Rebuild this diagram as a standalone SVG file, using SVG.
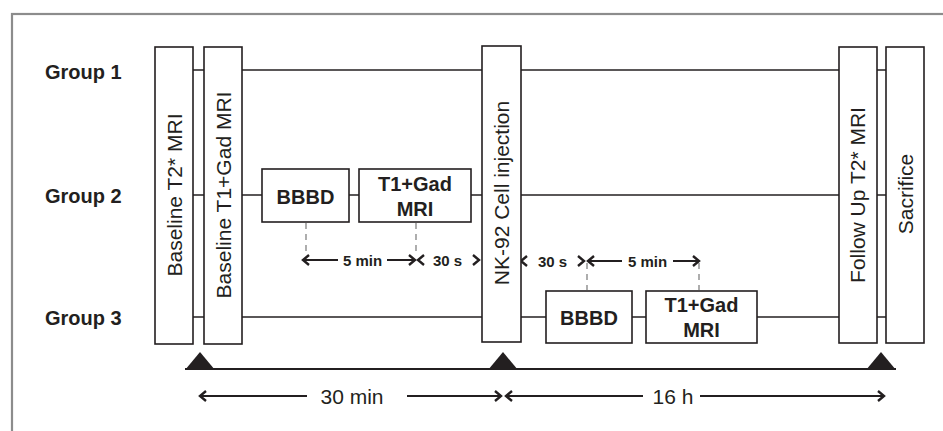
<svg xmlns="http://www.w3.org/2000/svg" width="943" height="431" viewBox="0 0 943 431">
<style>
.frame{fill:none;stroke:#8c8c8c;stroke-width:2.2}
.box{fill:#fff;stroke:#231f20;stroke-width:1.6}
.ln{fill:none;stroke:#231f20;stroke-width:1.4}
.dash{fill:none;stroke:#8c8c8c;stroke-width:1.4;stroke-dasharray:6 5}
.arr{fill:none;stroke:#231f20;stroke-width:2}
.ah{fill:none;stroke:#231f20;stroke-width:2.4;stroke-linejoin:miter}
.tl{fill:none;stroke:#231f20;stroke-width:2}
.tri{fill:#231f20}
.grp{font-family:"Liberation Sans",Arial,sans-serif;font-weight:bold;font-size:20px;fill:#231f20}
.vt{font-family:"Liberation Sans",Arial,sans-serif;font-size:21px;fill:#231f20;text-anchor:middle}
.bt{font-family:"Liberation Sans",Arial,sans-serif;font-weight:bold;font-size:20px;fill:#231f20;text-anchor:middle}
.st{font-family:"Liberation Sans",Arial,sans-serif;font-weight:bold;font-size:15px;fill:#231f20;text-anchor:middle}
.lt{font-family:"Liberation Sans",Arial,sans-serif;font-size:21px;fill:#231f20;text-anchor:middle}
</style>
<rect class="frame" x="12" y="14" width="940" height="430"/>

<g id="labels">
<text class="grp" x="45" y="79">Group 1</text>
<text class="grp" x="45" y="203">Group 2</text>
<text class="grp" x="45" y="325">Group 3</text>
</g>

<g id="connectors">
<line class="ln" x1="193" y1="70" x2="886" y2="70"/>
<line class="ln" x1="193" y1="195" x2="886" y2="195"/>
<line class="ln" x1="193" y1="317" x2="886" y2="317"/>
<line class="dash" x1="306" y1="223" x2="306" y2="256"/>
<line class="dash" x1="416" y1="223" x2="416" y2="256"/>
<line class="dash" x1="587" y1="263" x2="587" y2="290"/>
<line class="dash" x1="699" y1="263" x2="699" y2="290"/>
<!-- group 2 row arrows -->
<line class="arr" x1="303" y1="260" x2="338" y2="260"/>
<line class="arr" x1="387" y1="260" x2="415" y2="260"/>
<path class="ah" d="M309,255 L303,260 L309,265"/>
<path class="ah" d="M409,255 L415,260 L409,265"/>
<path class="ah" d="M424,255 L418,260 L424,265"/>
<path class="ah" d="M473,255 L479,260 L473,265"/>
<!-- group 3 row arrows -->
<path class="ah" d="M527,256 L521,261 L527,266"/>
<path class="ah" d="M578,256 L584,261 L578,266"/>
<line class="arr" x1="588" y1="261" x2="622" y2="261"/>
<line class="arr" x1="673" y1="261" x2="699" y2="261"/>
<path class="ah" d="M594,256 L588,261 L594,266"/>
<path class="ah" d="M693,256 L699,261 L693,266"/>
<!-- timeline -->
<line class="tl" x1="185" y1="369" x2="896" y2="369"/>
<polygon class="tri" points="185,370 200,352 215,370"/>
<polygon class="tri" points="488,370 503,352 518,370"/>
<polygon class="tri" points="866,370 881,352 896,370"/>
<line class="arr" x1="200" y1="396" x2="307" y2="396"/>
<line class="arr" x1="407" y1="396" x2="501" y2="396"/>
<path class="ah" d="M206,391 L200,396 L206,401"/>
<path class="ah" d="M495,391 L501,396 L495,401"/>
<line class="arr" x1="506" y1="396" x2="643" y2="396"/>
<line class="arr" x1="700" y1="396" x2="884" y2="396"/>
<path class="ah" d="M512,391 L506,396 L512,401"/>
<path class="ah" d="M878,391 L884,396 L878,401"/>
</g>

<g id="baseline-t2">
<rect class="box" x="155" y="47" width="38" height="297"/>
<text class="vt" transform="translate(182,195) rotate(-90)">Baseline T2* MRI</text>
</g>
<g id="baseline-t1">
<rect class="box" x="204" y="47" width="38" height="297"/>
<text class="vt" transform="translate(231,195) rotate(-90)">Baseline T1+Gad MRI</text>
</g>
<g id="nk92">
<rect class="box" x="482" y="46" width="39" height="296"/>
<text class="vt" transform="translate(509,193) rotate(-90)">NK-92 Cell injection</text>
</g>
<g id="followup">
<rect class="box" x="839" y="47" width="38" height="296"/>
<text class="vt" transform="translate(865,195) rotate(-90)">Follow Up T2* MRI</text>
</g>
<g id="sacrifice">
<rect class="box" x="886" y="47" width="38" height="296"/>
<text class="vt" transform="translate(913,194) rotate(-90)">Sacrifice</text>
</g>

<g id="g2-bbbd">
<rect class="box" x="262" y="169" width="87" height="53"/>
<text class="bt" x="305.5" y="204">BBBD</text>
</g>
<g id="g2-t1gad">
<rect class="box" x="359" y="169" width="112" height="53"/>
<text class="bt" x="415" y="191">T1+Gad</text>
<text class="bt" x="415" y="216">MRI</text>
</g>
<g id="g3-bbbd">
<rect class="box" x="546" y="291" width="86" height="52"/>
<text class="bt" x="589" y="325">BBBD</text>
</g>
<g id="g3-t1gad">
<rect class="box" x="646" y="291" width="111" height="52"/>
<text class="bt" x="701.5" y="312">T1+Gad</text>
<text class="bt" x="701.5" y="337">MRI</text>
</g>

<g id="interval-labels">
<text class="st" x="362.5" y="265.5">5 min</text>
<text class="st" x="447.5" y="265.5">30 s</text>
<text class="st" x="552.5" y="266.5">30 s</text>
<text class="st" x="647.5" y="266.5">5 min</text>
<text class="lt" x="352" y="404">30 min</text>
<text class="lt" x="673" y="404">16 h</text>
</g>
</svg>
